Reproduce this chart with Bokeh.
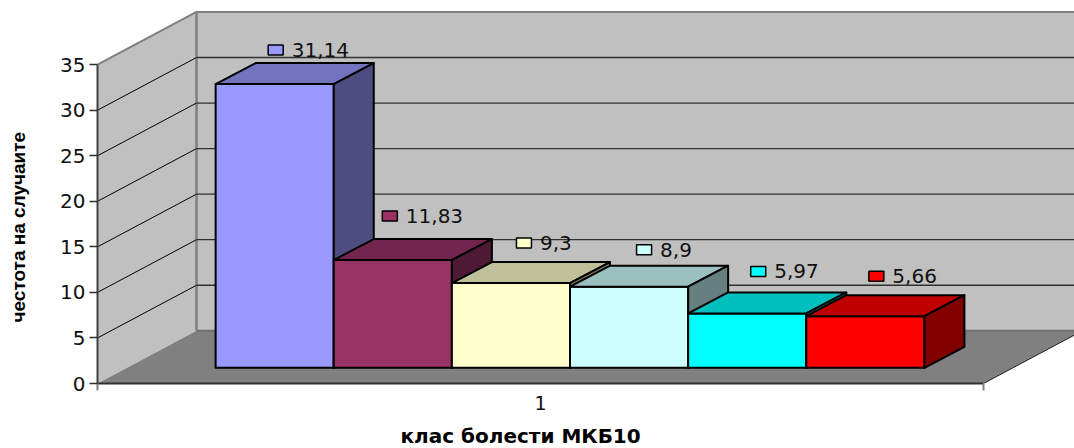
from bokeh.plotting import figure
from bokeh.models import FixedTicker, Label, Range1d, Title
from bokeh.embed import file_html
from bokeh.resources import INLINE

# ---- data ----
values = [31.14, 11.83, 9.3, 8.9, 5.97, 5.66]
value_labels = ["31,14", "11,83", "9,3", "8,9", "5,97", "5,66"]
front_colors = ["#9999FF", "#993366", "#FFFFCC", "#CCFFFF", "#00FFFF", "#FF0000"]
top_colors = ["#7373BF", "#73264D", "#BFBF99", "#99BFBF", "#00BFBF", "#BF0000"]
side_colors = ["#4D4D80", "#4D1933", "#808066", "#668080", "#008080", "#800000"]
y_ticks = [0, 5, 10, 15, 20, 25, 30, 35]
category_label = "1"
x_title = "клас болести МКБ10"
y_title = "честота на случаите"

# ---- layout constants (data units: x = bar widths, y = chart values) ----
PX_X, PX_Y = 118.13, 9.11
AXIS_END = 7.5
WALL_DX, WALL_DY = 99 / PX_X, 52.7 / PX_Y
BAR_DX, BAR_DY = 40 / PX_X, 21 / PX_Y
BAR_START, BAR_BASE = 1.0, 15.7 / PX_Y
KEY_DX = [1 / PX_X, -3 / PX_X, 13 / PX_X, 15 / PX_X, 11 / PX_X, 11 / PX_X]
KEY_DY = [34 / PX_Y, 44 / PX_Y, 40 / PX_Y, 37 / PX_Y, 42 / PX_Y, 40 / PX_Y]
WIDTH, HEIGHT = 1074, 448
BORDER_L, BORDER_B = 97, 65

x_end = (WIDTH - BORDER_L) / PX_X
y_end = (HEIGHT - BORDER_B) / PX_Y
p = figure(width=WIDTH, height=HEIGHT, output_backend="svg", toolbar_location=None,
           x_range=Range1d(0, x_end), y_range=Range1d(0, y_end),
           min_border_left=BORDER_L, min_border_bottom=BORDER_B,
           min_border_top=0, min_border_right=0)
p.outline_line_color = None
p.grid.visible = False
p.background_fill_color = "#FFFFFF"

TOP = y_ticks[-1]
# back wall
p.quad(left=[WALL_DX], right=[x_end + 1], bottom=[WALL_DY], top=[TOP + WALL_DY],
       fill_color="#C0C0C0", line_color=None)
# side wall
p.patch([0, WALL_DX, WALL_DX, 0], [0, WALL_DY, TOP + WALL_DY, TOP],
        fill_color="#C0C0C0", line_color=None)
# floor
p.patch([0, AXIS_END, AXIS_END + WALL_DX, WALL_DX], [0, 0, WALL_DY, WALL_DY],
        fill_color="#808080", line_color=None)
# wall edges
p.line([0, WALL_DX, x_end + 1], [TOP, TOP + WALL_DY, TOP + WALL_DY], line_color="#808080", line_width=2)
p.line([WALL_DX, WALL_DX], [WALL_DY, TOP + WALL_DY], line_color="#808080", line_width=2.5)
p.line([WALL_DX, x_end + 1], [WALL_DY, WALL_DY], line_color="#707070", line_width=2)
p.line([AXIS_END, AXIS_END + WALL_DX], [0, WALL_DY], line_color="#202020", line_width=1)
# gridlines
ticks = y_ticks[1:-1]
p.segment(x0=[0] * len(ticks), y0=ticks, x1=[WALL_DX] * len(ticks), y1=[t + WALL_DY for t in ticks],
          line_color="#000000", line_width=1)
p.segment(x0=[WALL_DX] * len(ticks), y0=[t + WALL_DY for t in ticks],
          x1=[x_end + 1] * len(ticks), y1=[t + WALL_DY for t in ticks],
          line_color="#303030", line_width=1.3)

# bars, left to right so that each one covers the last one's hidden part
for i, v in enumerate(values):
    x0, x1 = BAR_START + i, BAR_START + i + 1
    y0, y1 = BAR_BASE, BAR_BASE + v
    p.quad(left=[x0], right=[x1], bottom=[y0], top=[y1], fill_color=front_colors[i],
           line_color="#000000", line_width=2, line_join="round")
    p.patch([x0, x1, x1 + BAR_DX, x0 + BAR_DX], [y1, y1, y1 + BAR_DY, y1 + BAR_DY],
            fill_color=top_colors[i], line_color="#000000", line_width=2, line_join="round")
    p.patch([x1, x1 + BAR_DX, x1 + BAR_DX, x1], [y0, y0 + BAR_DY, y1 + BAR_DY, y1],
            fill_color=side_colors[i], line_color="#000000", line_width=2, line_join="round")

# data labels with legend keys
for i, v in enumerate(values):
    cx = BAR_START + i + 0.5 + KEY_DX[i]
    cy = BAR_BASE + v + KEY_DY[i]
    p.rect(x=[cx], y=[cy], width=15, height=10, width_units="screen", height_units="screen",
           fill_color=front_colors[i], line_color="#000000", line_width=1.5)
    p.add_layout(Label(x=cx + 16 / PX_X, y=cy, text=value_labels[i], text_font="DejaVu Sans",
                       text_font_size="20px", text_color="#111111",
                       text_align="left", text_baseline="middle"))

# axes
ya = p.yaxis[0]
ya.ticker = FixedTicker(ticks=y_ticks)
ya.bounds = (0, TOP)
ya.axis_line_color = "#404040"
ya.axis_line_width = 2
ya.major_tick_line_color = "#303030"
ya.major_tick_line_width = 1.5
ya.major_tick_out = 8
ya.major_tick_in = 0
ya.minor_tick_out = 0
ya.minor_tick_in = 0
ya.major_label_standoff = 4
ya.major_label_text_font = "DejaVu Sans"
ya.major_label_text_font_size = "20px"
ya.major_label_text_color = "#111111"

xa = p.xaxis[0]
xa.ticker = FixedTicker(ticks=[AXIS_END / 2], minor_ticks=[0, AXIS_END])
xa.bounds = (0, AXIS_END)
xa.major_label_overrides = {AXIS_END / 2: category_label}
xa.axis_line_color = "#303030"
xa.axis_line_width = 2
xa.major_tick_out = 0
xa.major_tick_in = 0
xa.minor_tick_out = 7
xa.minor_tick_in = 0
xa.minor_tick_line_color = "#808080"
xa.minor_tick_line_width = 2
xa.major_label_standoff = 5
xa.major_label_text_font = "DejaVu Sans"
xa.major_label_text_font_size = "19px"
xa.major_label_text_color = "#111111"

# blank titles only hold the real titles away from the axes
p.add_layout(Title(text="\u00a0", standoff=0, text_font_size="7px"), "below")
p.add_layout(Title(text=x_title, align="left", offset=303, standoff=0,
                   text_font="DejaVu Sans", text_font_style="bold", text_font_size="20px",
                   text_color="#000000"), "below")
p.add_layout(Title(text="\u00a0", standoff=12, text_font_size="10px"), "left")
p.add_layout(Title(text=y_title, align="left", offset=61, standoff=8,
                   text_font="Liberation Sans", text_font_style="bold", text_font_size="19px",
                   text_color="#000000"), "left")

open("out.html", "w").write(file_html(p, INLINE))
